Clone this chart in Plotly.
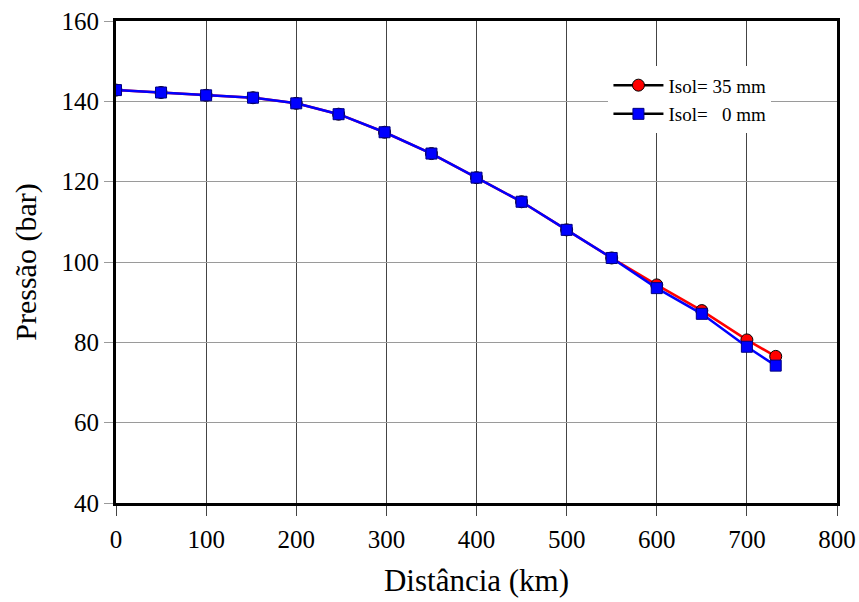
import plotly.graph_objects as go

# Data
dist = [0, 50, 100, 152, 200, 247, 298, 350, 400, 450, 500, 550, 600, 650, 700, 732]
p_isol35 = [142.8, 142.2, 141.5, 140.9, 139.5, 136.8, 132.3, 127.0, 121.0, 115.0, 108.0, 101.0, 94.3, 87.9, 80.6, 76.5]
p_isol0 = [142.8, 142.2, 141.5, 140.9, 139.5, 136.8, 132.3, 127.0, 121.0, 115.0, 108.0, 101.0, 93.5, 87.1, 78.9, 74.2]
x_ticks = [0, 100, 200, 300, 400, 500, 600, 700, 800]
y_ticks = [40, 60, 80, 100, 120, 140, 160]
name35 = "Isol= 35 mm"
name0 = "Isol=\u00a0\u00a0 0 mm"

SERIF = "Times New Roman, Liberation Serif, serif"

fig = go.Figure()

fig.add_trace(go.Scatter(
    x=dist, y=p_isol35, mode="lines+markers", showlegend=False,
    line=dict(color="#ff0000", width=2.5),
    marker=dict(symbol="circle", size=12, color="#ff0000", line=dict(color="#000000", width=1)),
))
fig.add_trace(go.Scatter(
    x=dist, y=p_isol0, mode="lines+markers", showlegend=False,
    line=dict(color="#0000ff", width=2.5),
    marker=dict(symbol="square", size=11, color="#0000ff", line=dict(color="#000080", width=1)),
))

fig.add_trace(go.Scatter(
    x=[None], y=[None], mode="lines+markers", name=name35, legendgroup="a",
    line=dict(color="#000000", width=2.5),
    marker=dict(symbol="circle", size=12, color="#ff0000", line=dict(color="#000000", width=1)),
))
fig.add_trace(go.Scatter(
    x=[None], y=[None], mode="lines+markers", name=name0, legendgroup="b",
    line=dict(color="#000000", width=2.5),
    marker=dict(symbol="square", size=11, color="#0000ff", line=dict(color="#000080", width=1)),
))

fig.update_layout(
    template="none",
    width=859, height=602,
    margin=dict(l=116, r=22, t=21, b=99),
    paper_bgcolor="white", plot_bgcolor="white",
    font=dict(family=SERIF, size=25, color="#000000"),
    showlegend=True,
    legend=dict(
        x=0.683, y=0.906, xanchor="left", yanchor="top",
        bgcolor="white", borderwidth=0,
        font=dict(family=SERIF, size=19, color="#000000"),
        tracegroupgap=1, itemwidth=50,
    ),
    xaxis=dict(
        range=[0, 800], tickmode="array", tickvals=x_ticks, ticktext=[str(v) for v in x_ticks],
        showgrid=True, gridcolor="#444444", gridwidth=1,
        ticks="outside", ticklen=10, tickcolor="#444444", tickwidth=1,
        showline=True, linecolor="#000000", linewidth=3, mirror=True,
        tickfont=dict(family=SERIF, size=25, color="#000000"),
        ticklabelstandoff=2,
        title=dict(text="Distância (km)", font=dict(family=SERIF, size=31, color="#000000"), standoff=18),
        zeroline=False,
    ),
    yaxis=dict(
        range=[40, 160], tickmode="array", tickvals=y_ticks, ticktext=[str(v) for v in y_ticks],
        showgrid=True, gridcolor="#9a9a9a", gridwidth=1,
        ticks="outside", ticklen=9, tickcolor="#9a9a9a", tickwidth=1,
        showline=True, linecolor="#000000", linewidth=3, mirror=True,
        tickfont=dict(family=SERIF, size=25, color="#000000"),
        ticklabelstandoff=0,
        title=dict(text="Pressão (bar)", font=dict(family=SERIF, size=30, color="#000000"), standoff=17),
        zeroline=False,
    ),
)

fig.write_html("out.html")
